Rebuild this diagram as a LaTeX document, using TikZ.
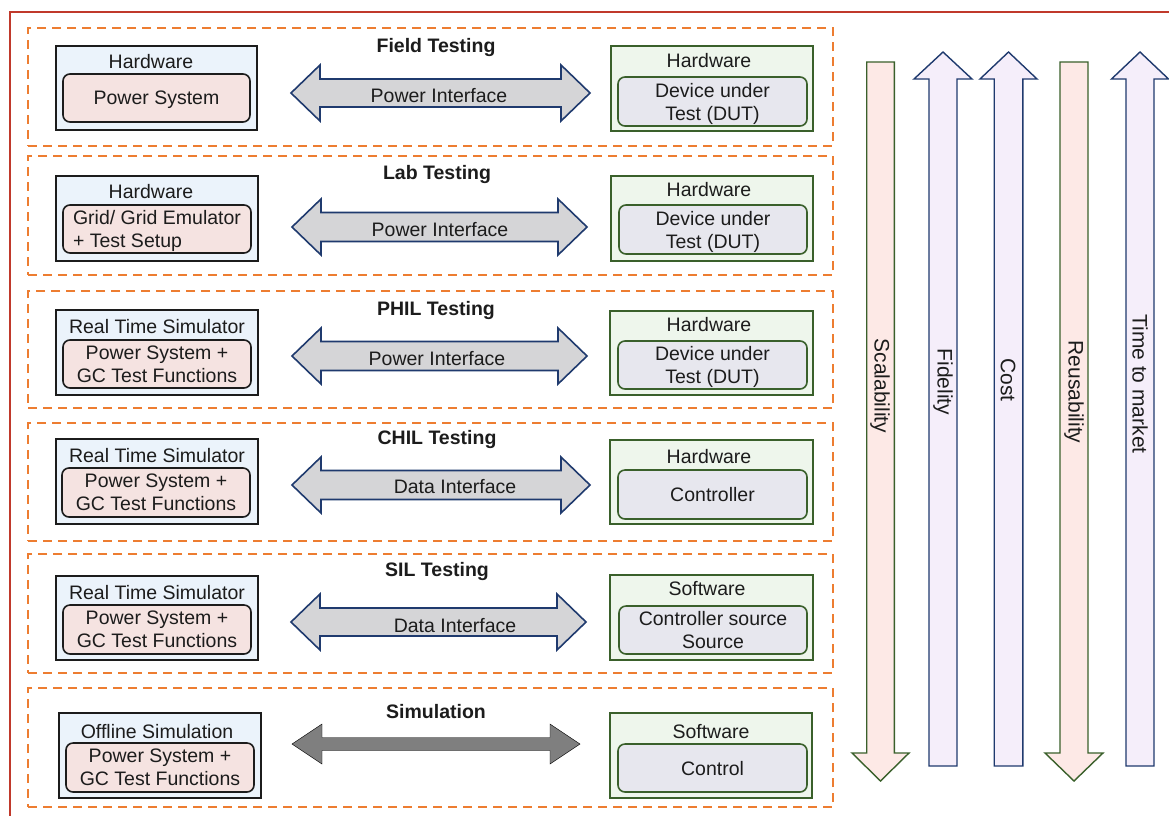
\documentclass[tikz,border=0pt]{standalone}
\usepackage{fontspec}
\setmainfont{Liberation Sans}
\usetikzlibrary{calc}

\definecolor{framered}{HTML}{C0392B}
\definecolor{dashorange}{HTML}{ED7D31}
\definecolor{ink}{HTML}{1C1C1C}
\definecolor{navy}{HTML}{1F3A6E}
\definecolor{leafgreen}{HTML}{3A602B}
\definecolor{lblue}{HTML}{EBF3FB}
\definecolor{lpink}{HTML}{F5E3E1}
\definecolor{lgreen}{HTML}{EEF6EC}
\definecolor{lgrey}{HTML}{E7E7EE}
\definecolor{arrowgrey}{HTML}{D5D5D7}
\definecolor{darkgrey}{HTML}{7F7F7F}
\definecolor{downfill}{HTML}{FDE9E6}
\definecolor{upfill}{HTML}{F5EEFA}

% rectangle node from its two corners: style, name, x1, y1, x2, y2, text
\newcommand\rectnode[7]{%
  \node[#1, minimum width={#5-#3}, minimum height={#6-#4}] (#2)
    at ({(#3+#5)/2},{(#4+#6)/2}) {#7};}

% horizontal block arrow with a head at both ends
% style, west tip, east tip, head length, head half height, shaft half height
\newcommand\dblarrow[6]{%
  \draw[#1] (#2) -- ([shift={(#4,-#5)}]#2) -- ([shift={(#4,-#6)}]#2)
    -- ([shift={(-#4,-#6)}]#3) -- ([shift={(-#4,-#5)}]#3) -- (#3)
    -- ([shift={(-#4,#5)}]#3) -- ([shift={(-#4,#6)}]#3)
    -- ([shift={(#4,#6)}]#2) -- ([shift={(#4,#5)}]#2) -- cycle;}

% vertical block arrow: style, tip, tail, head length (signed), head half width, shaft half width
\newcommand\vblock[6]{%
  \draw[#1] (#2) -- ([shift={(#5,#4)}]#2) -- ([shift={(#6,#4)}]#2)
    -- ([shift={(#6,0)}]#3) -- ([shift={(-#6,0)}]#3)
    -- ([shift={(-#6,#4)}]#2) -- ([shift={(-#5,#4)}]#2) -- cycle;}

\begin{document}
\begin{tikzpicture}[x=1pt,y=-1pt,
  txt/.style={text=ink, font=\fontsize{19.5}{23}\selectfont, inner sep=0pt, outer sep=0pt},
  headtxt/.style={txt, anchor=base},
  ttl/.style={text=ink, font=\bfseries\fontsize{19.5}{23}\selectfont, inner sep=0pt, anchor=base},
  panel/.style={draw=dashorange, line width=1.8pt, dash pattern=on 9pt off 6pt, inner sep=0pt, outer sep=0pt},
  louter/.style={draw=ink, fill=lblue, line width=1.6pt, inner sep=0pt, outer sep=0pt},
  linner/.style={txt, draw=ink, fill=lpink, line width=1.6pt, rounded corners=7pt, align=center, text depth=0pt},
  router/.style={draw=leafgreen, fill=lgreen, line width=1.6pt, inner sep=0pt, outer sep=0pt},
  rinner/.style={txt, draw=leafgreen, fill=lgrey, line width=1.6pt, rounded corners=7pt, align=center, text depth=0pt},
  link/.style={draw=navy, fill=arrowgrey, line width=1.6pt, line join=miter},
  simlink/.style={fill=darkgrey},
  downarrow/.style={draw=leafgreen, fill=downfill, line width=1.4pt, line join=miter},
  uparrow/.style={draw=navy, fill=upfill, line width=1.4pt, line join=miter},
  vlabel/.style={txt, font=\fontsize{21}{24}\selectfont, rotate=-90}]

\useasboundingbox (0,0) rectangle (1169,815);
\fill[white] (0,0) rectangle (1169,815);
\clip (0,0) rectangle (1169,815);

% outer frame, running off the right and bottom edges
\draw[framered, line width=1.3pt] (10,12) rectangle (1185,835);

% ---------- testing stages ----------
\rectnode{panel}{p1}{28}{28}{833}{146}{}
\rectnode{panel}{p2}{28}{156}{833}{275}{}
\rectnode{panel}{p3}{28}{291}{833}{408}{}
\rectnode{panel}{p4}{28}{423}{833}{541}{}
\rectnode{panel}{p5}{28}{554}{833}{673}{}
\rectnode{panel}{p6}{28}{688}{833}{807}{}

\node[ttl] (t1) at (436,52) {Field Testing};
\node[ttl] (t2) at (437,179) {Lab Testing};
\node[ttl] (t3) at (436,315) {PHIL Testing};
\node[ttl] (t4) at (437,444) {CHIL Testing};
\node[ttl] (t5) at (437,576) {SIL Testing};
\node[ttl] (t6) at (436,718) {Simulation};

% ---------- left side: grid / simulator ----------
\rectnode{louter}{lo1}{56}{46}{257}{130}{}
\rectnode{linner}{li1}{63}{74}{250}{122}{Power System}
\node[headtxt] (lh1) at (151,68) {Hardware};

\rectnode{louter}{lo2}{56}{176}{258}{261}{}
\rectnode{linner, align=left}{li2}{63}{205}{251}{253}{Grid/ Grid Emulator\\+ Test Setup}
\node[headtxt] (lh2) at (151,198) {Hardware};

\rectnode{louter}{lo3}{56}{310}{258}{395}{}
\rectnode{linner}{li3}{63}{340}{251}{388}{Power System +\\GC Test Functions}
\node[headtxt] (lh3) at (157,333) {Real Time Simulator};

\rectnode{louter}{lo4}{56}{439}{258}{524}{}
\rectnode{linner}{li4}{62}{468}{250}{517}{Power System +\\GC Test Functions}
\node[headtxt] (lh4) at (157,462) {Real Time Simulator};

\rectnode{louter}{lo5}{56}{576}{258}{660}{}
\rectnode{linner}{li5}{63}{605}{251}{654}{Power System +\\GC Test Functions}
\node[headtxt] (lh5) at (157,599) {Real Time Simulator};

\rectnode{louter}{lo6}{59}{713}{261}{798}{}
\rectnode{linner}{li6}{66}{743}{254}{792}{Power System +\\GC Test Functions}
\node[headtxt] (lh6) at (157,738) {Offline Simulation};

% ---------- right side: device / software ----------
\rectnode{router}{ro1}{611}{46}{813}{131}{}
\rectnode{rinner}{ri1}{618}{77}{807}{126}{Device under\\Test (DUT)}
\node[headtxt] (rh1) at (709,67) {Hardware};

\rectnode{router}{ro2}{611}{176}{813}{261}{}
\rectnode{rinner}{ri2}{619}{205}{807}{254}{Device under\\Test (DUT)}
\node[headtxt] (rh2) at (709,196) {Hardware};

\rectnode{router}{ro3}{610}{311}{813}{395}{}
\rectnode{rinner}{ri3}{618}{341}{807}{389}{Device under\\Test (DUT)}
\node[headtxt] (rh3) at (709,331) {Hardware};

\rectnode{router}{ro4}{610}{440}{813}{524}{}
\rectnode{rinner}{ri4}{618}{470}{807}{519}{Controller}
\node[headtxt] (rh4) at (709,463) {Hardware};

\rectnode{router}{ro5}{610}{575}{813}{660}{}
\rectnode{rinner}{ri5}{619}{606}{807}{654}{Controller source\\Source}
\node[headtxt] (rh5) at (707,595) {Software};

\rectnode{router}{ro6}{610}{713}{812}{798}{}
\rectnode{rinner}{ri6}{618}{744}{807}{792}{Control}
\node[headtxt] (rh6) at (711,738) {Software};

% ---------- interfaces ----------
\coordinate (aw1) at (291,93);  \coordinate (ae1) at (590,93);
\coordinate (aw2) at (292,227); \coordinate (ae2) at (587,227);
\coordinate (aw3) at (292,356); \coordinate (ae3) at (587,356);
\coordinate (aw4) at (292,485); \coordinate (ae4) at (590,485);
\coordinate (aw5) at (291,622); \coordinate (ae5) at (586,622);
\coordinate (aw6) at (292,744); \coordinate (ae6) at (580,744);

\dblarrow{link}{aw1}{ae1}{29}{28}{14}
\dblarrow{link}{aw2}{ae2}{29}{28}{14.5}
\dblarrow{link}{aw3}{ae3}{29}{28}{14.5}
\dblarrow{link}{aw4}{ae4}{29}{28}{14.5}
\dblarrow{link}{aw5}{ae5}{29}{28}{14}
\dblarrow{simlink}{aw6}{ae6}{30}{20}{6.5}

\node[headtxt] (al1) at (439,102) {Power Interface};
\node[headtxt] (al2) at (440,236) {Power Interface};
\node[headtxt] (al3) at (437,365) {Power Interface};
\node[headtxt] (al4) at (455,493) {Data Interface};
\node[headtxt] (al5) at (455,632) {Data Interface};

% ---------- trends along the stages ----------
\coordinate (scaTip) at (880.5,781);  \coordinate (scaTail) at (880.5,62);
\coordinate (fidTip) at (943,52);     \coordinate (fidTail) at (943,766);
\coordinate (cosTip) at (1008.5,52);  \coordinate (cosTail) at (1008.5,766);
\coordinate (reuTip) at (1074,781);   \coordinate (reuTail) at (1074,62);
\coordinate (ttmTip) at (1140,52);    \coordinate (ttmTail) at (1140,766);

\vblock{downarrow}{scaTip}{scaTail}{-28}{28.5}{13.8}
\vblock{uparrow}{fidTip}{fidTail}{27}{29}{14}
\vblock{uparrow}{cosTip}{cosTail}{27}{28.5}{14.3}
\vblock{downarrow}{reuTip}{reuTail}{-28}{29}{14}
\vblock{uparrow}{ttmTip}{ttmTail}{27}{28.5}{14}

\node[vlabel] (vl1) at (880,386) {Scalability};
\node[vlabel] (vl2) at (943,382) {Fidelity};
\node[vlabel] (vl3) at (1008,380) {Cost};
\node[vlabel] (vl4) at (1074,392) {Reusability};
\node[vlabel] (vl5) at (1140,384) {Time to market};
\end{tikzpicture}
\end{document}
